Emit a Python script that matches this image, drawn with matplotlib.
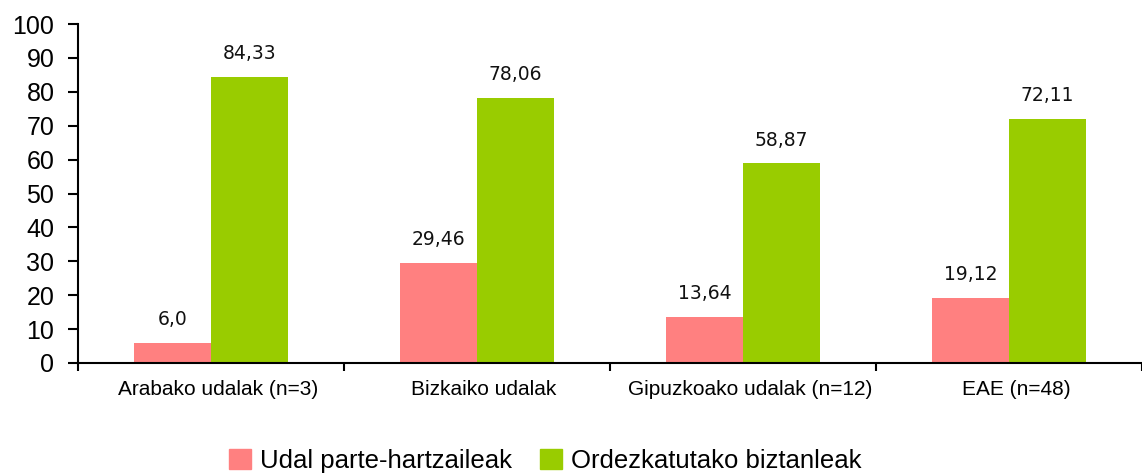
import matplotlib
matplotlib.use("Agg")
import matplotlib.pyplot as plt
from matplotlib import font_manager
import numpy as np
from matplotlib.patches import Patch

categories = ["Arabako udalak (n=3)", "Bizkaiko udalak", "Gipuzkoako udalak (n=12)", "EAE (n=48)"]
series_names = ["Udal parte-hartzaileak", "Ordezkatutako biztanleak"]
udal = [6.0, 29.46, 13.64, 19.12]
biztanle = [84.33, 78.06, 58.87, 72.11]
udal_labels = ["6,0", "29,46", "13,64", "19,12"]
biztanle_labels = ["84,33", "78,06", "58,87", "72,11"]
colors = ["#FF8080", "#99CC00"]

names = {f.name for f in font_manager.fontManager.ttflist}
arial = next((n for n in ["Liberation Sans", "Arimo", "Arial"] if n in names), "DejaVu Sans")

fig = plt.figure(figsize=(11.42, 4.75), dpi=100)
ax = fig.add_axes([78/1142, (475-363)/475, 1 - 78/1142, (363-24)/475])

x = np.arange(len(categories))
w = 0.29
b1 = ax.bar(x - w/2, udal, w, color=colors[0], label=series_names[0])
b2 = ax.bar(x + w/2, biztanle, w, color=colors[1], label=series_names[1])

for bars, labs in ((b1, udal_labels), (b2, biztanle_labels)):
    for r, t in zip(bars, labs):
        ax.annotate(t, (r.get_x() + r.get_width()/2, r.get_height()),
                    xytext=(0, 10), textcoords="offset points",
                    ha="center", va="bottom", fontsize=13.5,
                    family="DejaVu Sans", color="#111111")

ax.set_xlim(-0.5, len(categories) - 0.5)
ax.set_ylim(0, 100)
ax.set_yticks(np.arange(0, 101, 10))
ax.set_yticklabels([str(v) for v in range(0, 101, 10)], fontsize=18, family=arial)
ax.tick_params(axis="y", length=7, width=1.5, direction="out", pad=10)

# category labels sit slightly right of group centre, as in the original
ax.set_xticks(x + 0.027)
ax.set_xticklabels(categories, fontsize=15, family=arial)
ax.set_xticks(np.arange(-0.5, len(categories), 1.0), minor=True)
ax.tick_params(axis="x", which="major", length=0, pad=12)
ax.tick_params(axis="x", which="minor", length=6, width=1.5, direction="out")

for s in ("top", "right"):
    ax.spines[s].set_visible(False)
ax.spines["left"].set_linewidth(1.5)
ax.spines["bottom"].set_linewidth(1.5)

handles = [Patch(color=c, label=n) for c, n in zip(colors, series_names)]
fig.legend(handles=handles, loc="center", bbox_to_anchor=(545/1142, 1 - 461/475),
           ncol=2, frameon=False, prop={"family": arial, "size": 18.5},
           handlelength=0.85, handleheight=0.85, handletextpad=0.35, columnspacing=1.1)

fig.savefig("out.png", dpi=100)
